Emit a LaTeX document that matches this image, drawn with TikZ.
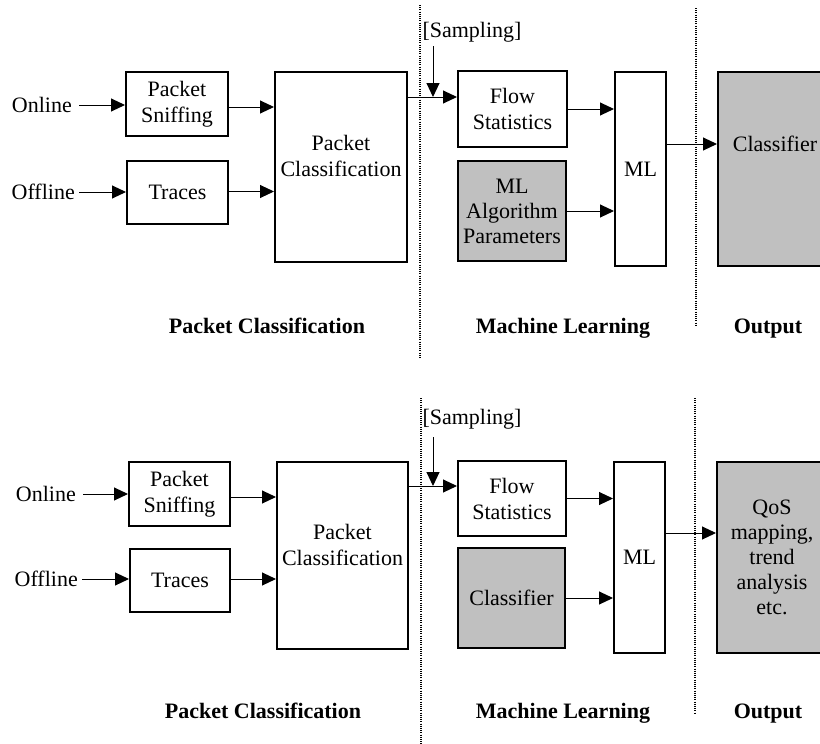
\documentclass[tikz,border=0pt]{standalone}
\usepackage{fontspec}
\setmainfont{Liberation Serif}
\usetikzlibrary{arrows.meta}
\definecolor{gfill}{RGB}{192,192,192}
\begin{document}
\begin{tikzpicture}[x=1pt,y=-1pt,
 box/.style={draw, line width=2pt, inner sep=0pt, align=center, font=\fontsize{22}{26}\selectfont},
 gbox/.style={box, fill=gfill},
 txt/.style={inner sep=0pt, align=center, font=\fontsize{22}{26}\selectfont},
 hd/.style={inner sep=0pt, font=\fontsize{22}{26}\selectfont\bfseries},
 arr/.style={line width=1pt, -{Triangle[length=14pt,width=13pt]}},
 sep/.style={line width=1.2pt, dash pattern=on 1pt off 1.2pt},
]
\clip (0,0) rectangle (820,744);
% ---------- top panel ----------
\node[box, minimum width=102pt, minimum height=64pt] (sn1) at (177,104) {Packet\\Sniffing};
\node[box, minimum width=101pt, minimum height=63pt] (tr1) at (177.5,192.5) {Traces};
\node[box, minimum width=132pt, minimum height=190pt] (pc1) at (341,167) {};
\node[txt] (pc1t) at (341,156) {Packet\\Classification};
\node[txt, anchor=east] (on1) at (72,105) {Online};
\node[txt, anchor=east] (of1) at (75,192) {Offline};
\draw[arr] ([xshift=7pt]on1.east) -- (sn1.west |- on1.east);
\draw[arr] ([xshift=4pt]of1.east) -- (tr1.west |- of1.east);
\draw[arr] ([yshift=-3pt]sn1.east) -- ([yshift=-3pt]sn1.east -| pc1.west);
\draw[arr] ([yshift=1pt]tr1.east) -- ([yshift=1pt]tr1.east -| pc1.west);
\node[box, minimum width=109pt, minimum height=76pt] (fs1) at (512.5,109) {Flow\\Statistics};
\node[gbox, minimum width=108pt, minimum height=100pt, font=\fontsize{22}{25}\selectfont] (mp1) at (512,211) {ML\\Algorithm\\Parameters};
\node[box, minimum width=51pt, minimum height=194pt] (ml1) at (640.5,169) {ML};
\node[gbox, minimum width=114pt, minimum height=194pt] (cl1) at (775,169) {};
\node[txt] (cl1t) at (775,144) {Classifier};
\node[txt] (sa1) at (472,32) {[Sampling]};
\coordinate (s1top) at (433,46);
\coordinate (j1) at (433,97);
\draw[arr] (s1top) -- (j1);
\draw[arr] (pc1.east |- j1) -- (fs1.west |- j1);
\draw[arr] (fs1.east) -- (fs1.east -| ml1.west);
\draw[arr] (mp1.east) -- (mp1.east -| ml1.west);
\draw[arr] ([yshift=25pt]ml1.east) -- ([yshift=25pt]ml1.east -| cl1.west);
\draw[sep] (420,5) -- (420,358);
\draw[sep] (696,8) -- (696,327);
\node[hd, anchor=base] (h1) at (267,333) {Packet Classification};
\node[hd, anchor=base] (h2) at (563,333) {Machine Learning};
\node[hd, anchor=base] (h3) at (768,333) {Output};
% ---------- bottom panel ----------
\node[box, minimum width=101pt, minimum height=64pt] (sn2) at (179.5,494) {Packet\\Sniffing};
\node[box, minimum width=100pt, minimum height=63pt] (tr2) at (180,580.5) {Traces};
\node[box, minimum width=131pt, minimum height=187pt] (pc2) at (342.5,555.5) {};
\node[txt] (pc2t) at (342.5,544.5) {Packet\\Classification};
\node[txt, anchor=east] (on2) at (76,494) {Online};
\node[txt, anchor=east] (of2) at (78,579) {Offline};
\draw[arr] ([xshift=7pt]on2.east) -- (sn2.west |- on2.east);
\draw[arr] ([xshift=4pt]of2.east) -- (tr2.west |- of2.east);
\draw[arr] ([yshift=-3pt]sn2.east) -- ([yshift=-3pt]sn2.east -| pc2.west);
\draw[arr] ([yshift=1.5pt]tr2.east) -- ([yshift=1.5pt]tr2.east -| pc2.west);
\node[box, minimum width=108pt, minimum height=75pt] (fs2) at (512,498.5) {Flow\\Statistics};
\node[gbox, minimum width=107pt, minimum height=100pt] (cl2) at (511.5,598) {Classifier};
\node[box, minimum width=51pt, minimum height=191pt] (ml2) at (639.5,557.5) {ML};
\node[gbox, minimum width=110pt, minimum height=191pt, font=\fontsize{22}{25}\selectfont] (qos) at (772,557.5) {QoS\\mapping,\\trend\\analysis\\etc.};
\node[txt] (sa2) at (472,419) {[Sampling]};
\coordinate (s2top) at (433,437);
\coordinate (j2) at (433,486);
\draw[arr] (s2top) -- (j2);
\draw[arr] (pc2.east |- j2) -- (fs2.west |- j2);
\draw[arr] (fs2.east) -- (fs2.east -| ml2.west);
\draw[arr] (cl2.east) -- (cl2.east -| ml2.west);
\draw[arr] ([yshift=24.5pt]ml2.east) -- ([yshift=24.5pt]ml2.east -| qos.west);
\draw[sep] (421,398) -- (421,744);
\draw[sep] (695,398) -- (695,713);
\node[hd, anchor=base] (h4) at (263,718) {Packet Classification};
\node[hd, anchor=base] (h5) at (563,718) {Machine Learning};
\node[hd, anchor=base] (h6) at (768,718) {Output};
\end{tikzpicture}
\end{document}
